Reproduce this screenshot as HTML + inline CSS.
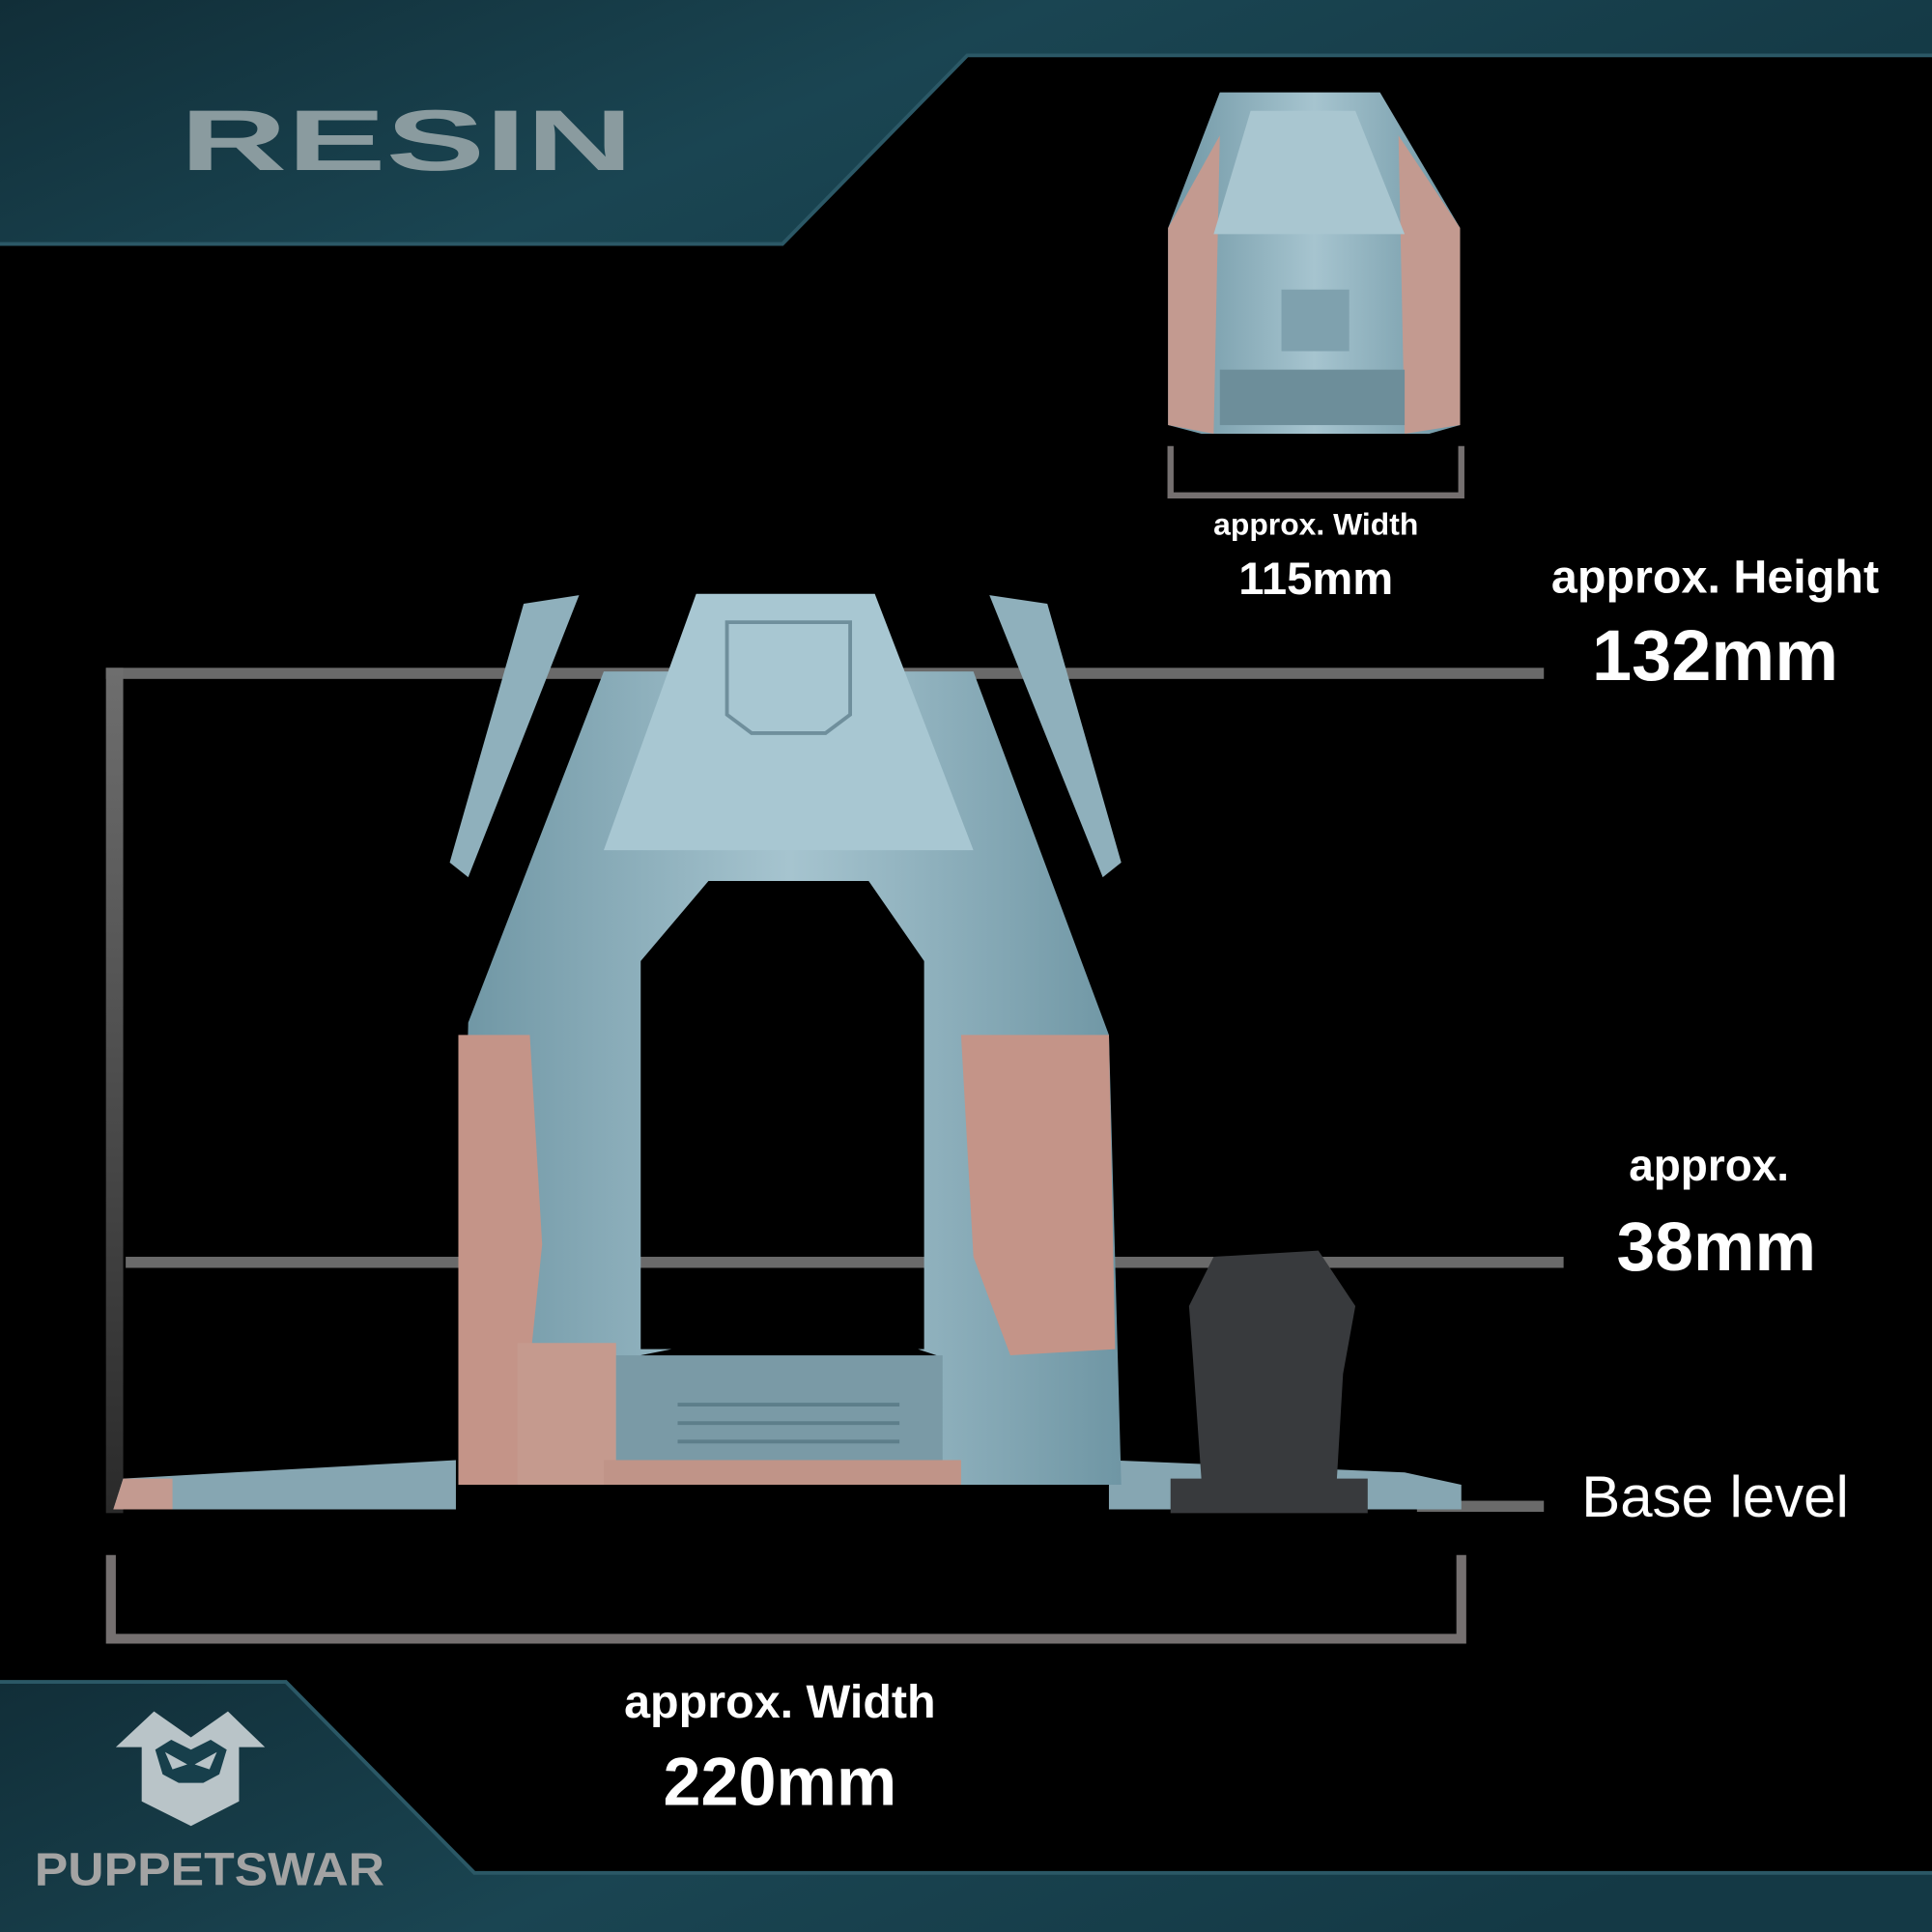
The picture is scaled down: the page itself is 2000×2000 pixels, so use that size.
<!DOCTYPE html>
<html><head><style>
html,body{margin:0;padding:0;background:#000;}
svg{display:block;}
</style></head><body>
<svg width="2000" height="2000" viewBox="0 0 1568 1568" xmlns="http://www.w3.org/2000/svg">
<defs>
<linearGradient id="tg" x1="0" y1="0" x2="1" y2="0.3"><stop offset="0" stop-color="#112e38"/><stop offset="0.5" stop-color="#1a4552"/><stop offset="1" stop-color="#143945"/></linearGradient>
<linearGradient id="bl" x1="0" y1="0" x2="1" y2="0"><stop offset="0" stop-color="#6f96a4"/><stop offset="0.5" stop-color="#a6c4cf"/><stop offset="1" stop-color="#6f96a4"/></linearGradient>
<linearGradient id="vl" x1="0" y1="0" x2="0" y2="1"><stop offset="0" stop-color="#6e6e6e"/><stop offset="1" stop-color="#2a2a2a"/></linearGradient>
</defs>
<rect width="1568" height="1568" fill="#000"/>
<!-- top banner -->
<polygon points="0,0 1568,0 1568,45 785,45 635,198 0,198" fill="url(#tg)"/>
<polyline points="1568,45 785,45 635,198 0,198" fill="none" stroke="#2b5866" stroke-width="3"/>
<text x="146" y="138" font-family="Liberation Sans, sans-serif" font-weight="bold" font-size="70" fill="#8a9b9f" textLength="368" lengthAdjust="spacingAndGlyphs">RESIN</text>
<!-- bottom banner -->
<polygon points="0,1365 232,1365 385,1520 1568,1520 1568,1568 0,1568" fill="url(#tg)"/>
<polyline points="0,1365 232,1365 385,1520 1568,1520" fill="none" stroke="#2b5866" stroke-width="3"/>
<!-- logo -->
<polygon points="94,1418 125,1389 155,1410 185,1389 215,1418 194,1418 194,1462 155,1482 115,1462 115,1418" fill="#b9c4c8"/>
<polygon points="126,1420 139,1412 155,1420 171,1412 184,1420 178,1440 165,1447 145,1447 132,1440" fill="#173f4b"/>
<polygon points="134,1422 152,1432 140,1436" fill="#b9c4c8"/><polygon points="176,1422 158,1432 170,1436" fill="#b9c4c8"/>
<text x="28" y="1530" font-family="Liberation Sans, sans-serif" font-weight="bold" font-size="38" fill="#a3a3a3" textLength="284" lengthAdjust="spacingAndGlyphs">PUPPETSWAR</text>
<!-- measure lines -->
<g fill="#6a6a6a">
<rect x="86" y="542" width="1167" height="9"/>
<rect x="102" y="1020" width="1167" height="9"/>
<rect x="1150" y="1218" width="103" height="9"/>
</g>
<rect x="86" y="542" width="14" height="686" fill="url(#vl)"/>
<polyline points="90,1262 90,1330 1186,1330 1186,1262" fill="none" stroke="#757070" stroke-width="8"/>
<polyline points="950,362 950,402 1186,402 1186,362" fill="none" stroke="#757070" stroke-width="5"/>
<!-- small pod -->
<polygon points="990,75 1120,75 1185,185 1185,345 1160,352 975,352 948,345 948,185" fill="url(#bl)"/>
<polygon points="948,185 990,110 985,352 948,345" fill="#c39a90"/>
<polygon points="1185,185 1135,110 1140,352 1185,345" fill="#c39a90"/>
<polygon points="1015,90 1100,90 1140,190 985,190" fill="#a9c6d0"/>
<rect x="1040" y="235" width="55" height="50" fill="#7fa1ae"/>
<rect x="990" y="300" width="150" height="45" fill="#6d8e9a"/>
<!-- blades -->
<polygon points="425,490 470,483 380,712 365,700" fill="#8fb0bc"/>
<polygon points="803,483 850,490 910,700 895,712" fill="#8fb0bc"/>
<!-- base platform -->
<polygon points="100,1200 370,1185 370,1225 92,1225" fill="#86a6b2"/>
<polygon points="900,1185 1140,1195 1186,1205 1186,1225 900,1225" fill="#86a6b2"/>
<polygon points="100,1200 140,1200 140,1225 92,1225" fill="#c39a90"/>
<!-- gate -->
<path fill-rule="evenodd" fill="url(#bl)" d="M490,545 L380,830 L372,1205 L520,1205 L520,1100 L545,1095 L745,1095 L760,1100 L760,1205 L910,1205 L900,840 L790,545 Z M575,715 L520,780 L520,1095 L750,1095 L750,780 L705,715 Z"/>
<polygon points="372,840 430,840 440,1010 420,1205 372,1205" fill="#c49488"/>
<polygon points="780,840 900,840 905,1095 820,1100 790,1020" fill="#c49488"/>
<polygon points="420,1090 500,1090 500,1205 420,1205" fill="#c59a8e"/>
<polygon points="565,482 710,482 790,690 490,690" fill="#a8c7d2"/>
<polygon points="590,505 690,505 690,580 670,595 610,595 590,580" fill="none" stroke="#6f8f9c" stroke-width="3"/>
<rect x="500" y="1100" width="265" height="100" fill="#7a9aa6"/>
<g stroke="#5d7e8a" stroke-width="3"><line x1="550" y1="1140" x2="730" y2="1140"/><line x1="550" y1="1155" x2="730" y2="1155"/><line x1="550" y1="1170" x2="730" y2="1170"/></g>
<rect x="490" y="1185" width="290" height="20" fill="#c09488"/>
<!-- mini figure -->
<polygon points="985,1020 1070,1015 1100,1060 1090,1115 1085,1200 1110,1200 1110,1228 950,1228 950,1200 975,1200 968,1100 965,1060" fill="#383a3d"/>
<!-- labels -->
<g font-family="Liberation Sans, DejaVu Sans, sans-serif" font-weight="bold" fill="#fff" text-anchor="middle">
<text x="1068" y="434" font-size="25">approx. Width</text>
<text x="1068" y="482" font-size="37">115mm</text>
<text x="1392" y="481" font-size="38">approx. Height</text>
<text x="1392" y="552" font-size="58">132mm</text>
<text x="1387" y="958" font-size="36">approx.</text>
<text x="1393" y="1031" font-size="56">38mm</text>
<text x="1392" y="1231" font-size="47" font-weight="normal">Base level</text>
<text x="633" y="1394" font-size="38">approx. Width</text>
<text x="633" y="1465" font-size="55">220mm</text>
</g>
</svg>
</body></html>
